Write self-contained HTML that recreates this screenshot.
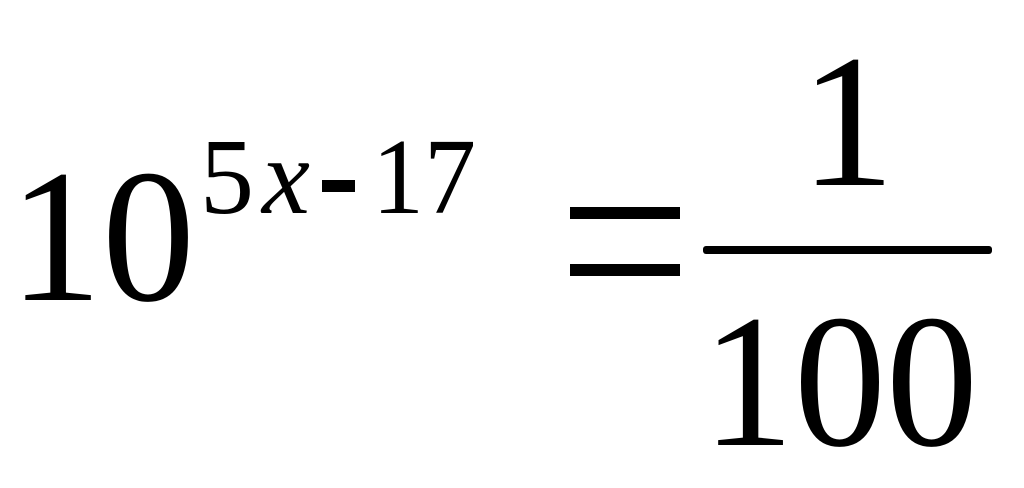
<!DOCTYPE html>
<html><head><style>html,body{margin:0;padding:0;background:#fff;width:1024px;height:488px;overflow:hidden}</style></head>
<body>
<svg width="1024" height="488" viewBox="0 0 1024 488" xmlns="http://www.w3.org/2000/svg" font-family="'Liberation Serif', serif" fill="#000">
<text x="9" y="300" font-size="190" textLength="186" lengthAdjust="spacingAndGlyphs">10</text>
<text x="200" y="213" font-size="108">5</text>
<text x="262" y="213" font-size="108" font-style="italic">x</text>
<rect x="322" y="180" width="33" height="12"/>
<text x="372" y="213" font-size="108" textLength="104" lengthAdjust="spacingAndGlyphs">17</text>
<rect x="570" y="207" width="110" height="12"/>
<rect x="570" y="264" width="110" height="12"/>
<text x="800" y="185" font-size="190">1</text>
<rect x="703" y="246" width="289" height="8" rx="3"/>
<text x="702" y="445" font-size="190" textLength="276" lengthAdjust="spacingAndGlyphs">100</text>
</svg>
</body></html>
